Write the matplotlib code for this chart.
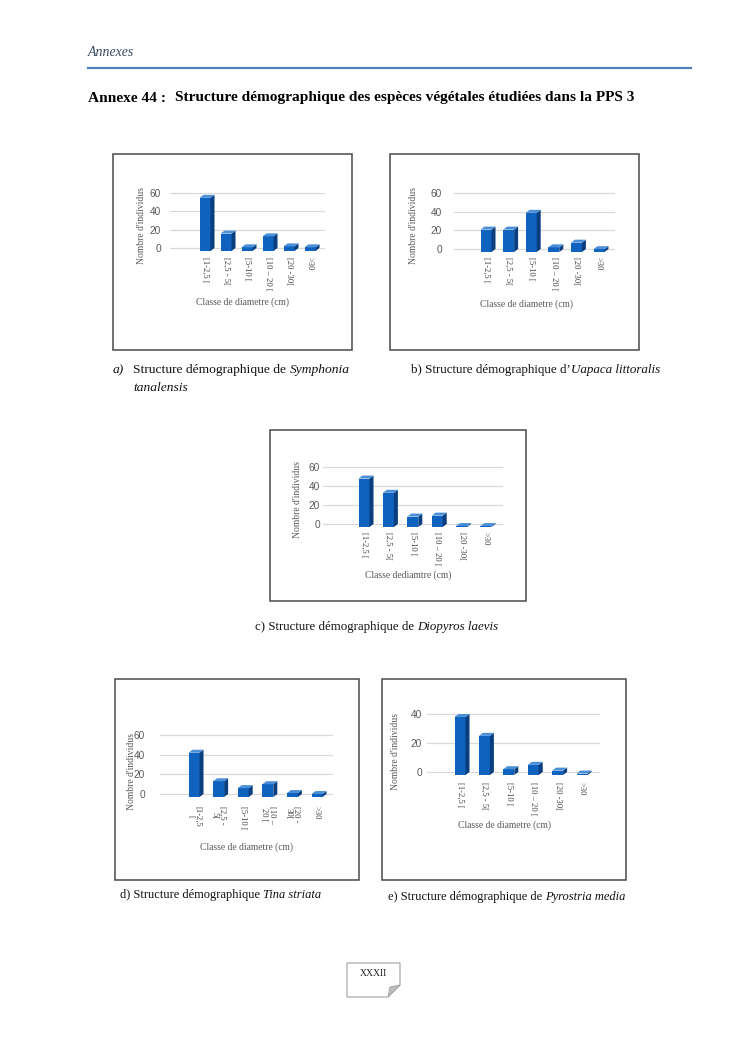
import matplotlib
matplotlib.use("Agg")
import matplotlib.pyplot as plt
from matplotlib.patches import Rectangle, Polygon
from matplotlib.lines import Line2D

W, H = 745, 1053
SERIF = ["Liberation Serif", "DejaVu Serif"]
SANS = ["Liberation Sans", "DejaVu Sans"]

# ---------------- data ----------------
labels_std = ["[1-2,5 [", "[2,5 - 5[", "[5-10 [", "[10 – 20 [", "[20 -30[", ">30"]
labels_d = ["[1-2,5\n[", "[2,5 -\n5[", "[5-10 [", "[10 –\n20 [", "[20 -\n30[", ">30"]

values_a = [58, 19, 4, 16, 5, 4]     # Symphonia tanalensis
values_b = [24, 24, 42, 5, 10, 3]    # Uapaca littoralis
values_c = [51, 36, 11, 12, 1, 1]    # Diopyros laevis
values_d = [45, 16, 9, 13, 4, 3]     # Tina striata
values_e = [40, 27, 4, 7, 3, 1]      # Pyrostria media

yticks_60 = [0, 20, 40, 60]
yticks_40 = [0, 20, 40]

xlabel_std = "Classe de diametre (cm)"
xlabel_c = "Classe dediamtre (cm)"
ylabel = "Nombre d'individus"

# ---------------- helpers ----------------
fig = plt.figure(figsize=(W / 100, H / 100), dpi=100)
fig.patch.set_facecolor("white")
renderer = fig.canvas.get_renderer()


def fx(x):
    return x / W


def fy(y):
    return 1 - y / H


FRONT = "#0F62BE"
SIDE = "#0A3E7E"
TOP = "#4A8FD8"


def chart(box, gx0, gx1, y0, ytop, ymax, first, sp, values, labels, yticks,
          ytick_right, ylab_x, ylab_y, xt_top, xlab, xlab_x, xlab_y):
    fig.patches.append(Rectangle((fx(box[0]), fy(box[3])), (box[2] - box[0]) / W,
                                 (box[3] - box[1]) / H, transform=fig.transFigure,
                                 fill=False, edgecolor="#4a4a4a", lw=1.1))
    ppu = (y0 - ytop) / ymax
    mb, mt = 6, 4
    bot_px = y0 + mb
    top_px = ytop - mt
    ax = fig.add_axes([fx(gx0), fy(bot_px), (gx1 - gx0) / W, (bot_px - top_px) / H])
    ax.set_ylim(-mb / ppu, ymax + mt / ppu)
    ax.set_xlim(-(first - gx0) / sp, (gx1 - first) / sp)
    for s in ax.spines.values():
        s.set_visible(False)
    ax.set_facecolor("none")
    ax.set_yticks(yticks)
    ax.grid(axis="y", color="#D9D9D9", lw=0.9)
    ax.set_axisbelow(True)
    ax.tick_params(axis="y", length=0, pad=(gx0 - ytick_right) * 0.72,
                   labelsize=7.3, labelcolor="#595959")
    for t in ax.get_yticklabels():
        t.set_fontfamily(SANS)
    xs = list(range(len(values)))
    ax.set_xticks(xs)
    ax.set_xticklabels(labels, rotation=-90, fontsize=6.2, color="#404040",
                       family=SERIF, linespacing=1.0)
    ax.tick_params(axis="x", length=0, pad=(xt_top - bot_px) * 0.72)
    w = 11 / sp
    dxu = 4 / sp
    dyu = 3 / ppu
    ax.bar(xs, values, width=w, bottom=-dyu, color=FRONT, zorder=3, clip_on=False)
    for c, v in zip(xs, values):
        l, r = c - w / 2, c + w / 2
        ax.fill([r, r + dxu, r + dxu, r], [-dyu, 0, v, v - dyu], color=SIDE,
                zorder=3, clip_on=False, lw=0)
        ax.fill([l, l + dxu, r + dxu, r], [v - dyu, v, v, v - dyu], color=TOP,
                zorder=3, clip_on=False, lw=0)
    fig.text(fx(ylab_x), fy(ylab_y), ylabel, rotation=90, ha="center", va="center",
             fontsize=6.9, color="#595959", family=SERIF)
    fig.text(fx(xlab_x), fy(xlab_y), xlab, ha="center", va="center",
             fontsize=6.9, color="#595959", family=SERIF)
    return ax


def rich(x, y, parts, size=9.7, weight="normal", color="#111111"):
    for txt, style in parts:
        t = fig.text(fx(x), fy(y), txt, style=style, fontsize=size, weight=weight,
                     family=SERIF, color=color, ha="left", va="center")
        bb = t.get_window_extent(renderer)
        x += bb.width
    return x


# ---------------- header ----------------
fig.text(fx(88), fy(52), "Annexes", style="italic", fontsize=10, family=SERIF,
         color="#3B4A66", ha="left", va="center")
fig.lines.append(Line2D([fx(88), fx(691)], [fy(68), fy(68)], transform=fig.transFigure,
                        color="#4F81BD", lw=1.6))
fig.text(fx(88), fy(98), "Annexe 44 :", weight="bold", fontsize=11.1, family=SERIF,
         color="black", ha="left", va="center")
fig.text(fx(175), fy(98), "Structure démographique des espèces végétales étudiées dans la PPS 3",
         weight="bold", fontsize=11.1, family=SERIF, color="black", ha="left", va="center")

# ---------------- charts ----------------
chart((113, 154, 352, 350), 170, 325, 248, 193, 60, 205, 21.0, values_a, labels_std,
      yticks_60, 161, 142, 225, 257, xlabel_std, 243, 302)
chart((390, 154, 639, 350), 454, 615, 249, 193, 60, 486, 22.6, values_b, labels_std,
      yticks_60, 442, 414, 225, 257, xlabel_std, 527, 304)
chart((270, 430, 526, 601), 323, 503, 524, 467, 60, 364, 24.4, values_c, labels_std,
      yticks_60, 320, 297, 500, 532, xlabel_c, 408, 575)
chart((115, 679, 359, 880), 160, 333, 794, 735, 60, 194, 24.6, values_d, labels_d,
      yticks_60, 145, 131, 772, 806, xlabel_std, 247, 847)
chart((382, 679, 626, 880), 427, 600, 772, 714, 40, 460, 24.4, values_e, labels_std,
      yticks_40, 422, 396, 752, 782, xlabel_std, 504, 825)

# ---------------- captions ----------------
rich(113, 370, [("a)", "italic")])
rich(133, 370, [("Structure démographique de ", "normal"), ("Symphonia", "italic")])
rich(133, 388, [("tanalensis", "italic")])
rich(411, 370, [("b) Structure démographique d’", "normal"), ("Uapaca littoralis", "italic")],
     size=9.35)
rich(255, 627, [("c) Structure démographique de ", "normal"), ("Diopyros laevis", "italic")],
     size=9.3)
rich(120, 895, [("d) Structure démographique ", "normal"), ("Tina striata", "italic")],
     size=9.0)
rich(388, 897, [("e) Structure démographique de ", "normal"), ("Pyrostria media", "italic")],
     size=9.0)

# ---------------- page number ----------------
pts = [(347, 963), (400, 963), (400, 985), (388, 997), (347, 997)]
fig.patches.append(Polygon([(fx(a), fy(b)) for a, b in pts], closed=True,
                           transform=fig.transFigure, facecolor="white",
                           edgecolor="#A0A0A0", lw=0.8))
fold = [(400, 985), (388, 997), (390, 987)]
fig.patches.append(Polygon([(fx(a), fy(b)) for a, b in fold], closed=True,
                           transform=fig.transFigure, facecolor="#BFBFBF",
                           edgecolor="#A0A0A0", lw=0.6))
fig.text(fx(373), fy(974), "XXXII", fontsize=7, family=SERIF, color="#222222",
         ha="center", va="center")

fig.savefig("out.png", dpi=100, facecolor="white")
